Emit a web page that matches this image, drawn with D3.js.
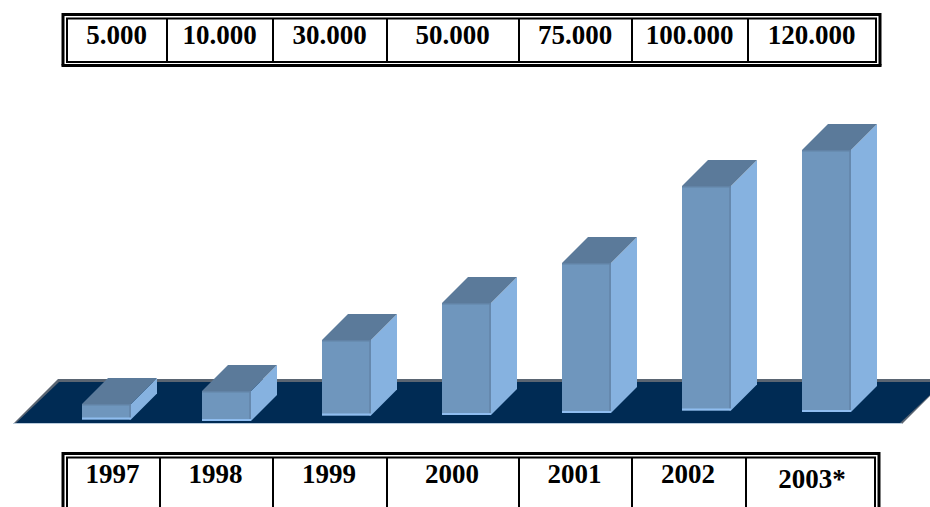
<!DOCTYPE html>
<html>
<head>
<meta charset="utf-8">
<script src="https://cdn.jsdelivr.net/npm/d3@7"></script>
<style>
  html, body { margin: 0; padding: 0; background: #fff; }
  svg { display: block; }
  text { font-family: "Liberation Serif", "Times New Roman", serif; font-weight: 700; font-size: 27px; fill: #000; text-anchor: middle; }
</style>
</head>
<body>
<svg id="chart" width="930" height="507"></svg>
<script>
// Yearly figures and their labels
const years = ["1997", "1998", "1999", "2000", "2001", "2002", "2003*"];
const values = [5000, 10000, 30000, 50000, 75000, 100000, 120000];
const valueLabels = ["5.000", "10.000", "30.000", "50.000", "75.000", "100.000", "120.000"];

// Column edges of the two tables
const topColumns = [67, 167, 273, 387, 519, 632, 748, 876];
const bottomColumns = [67, 160, 273, 387, 519, 632, 746, 875];

const svg = d3.select("#chart");
const fmt = d3.format(".1f");
const poly = pts => pts.map(p => p.map(fmt).join(",")).join(" ");

// Horizontal placement of the bars
const x = d3.scaleBand().domain(years).range([82, 851]).paddingInner(71 / 120).paddingOuter(0);

// Vertical scale: piecewise, since the columns do not rise in even steps
const yTop = d3.scaleLinear()
  .domain([0, 5000, 10000, 30000, 50000, 75000, 100000, 120000])
  .range([420, 404, 391, 340, 303, 263, 186, 150]);

// The bar feet stand at slightly different heights on the floor
const yBase = d3.scaleLinear().domain(d3.range(years.length)).range([419.5, 421, 415.5, 415, 413, 410.5, 412]);

const depth = 26;

// Dark floor with its bevelled rim
const floor = { left: 13, right: 902, top: 379, bottom: 424 };
const floorDx = floor.bottom - floor.top;
svg.append("polygon")
  .attr("points", poly([[floor.left, floor.bottom], [floor.left + floorDx, floor.top], [floor.right + floorDx, floor.top], [floor.right, floor.bottom]]))
  .attr("fill", "#5a6572");
svg.append("polygon")
  .attr("points", poly([[floor.left + 3, floor.bottom - 1], [floor.left + floorDx + 1, floor.top + 3], [floor.right + floorDx - 3, floor.top + 3], [floor.right - 2, floor.bottom - 1]]))
  .attr("fill", "#002b54");
svg.append("line")
  .attr("x1", floor.left).attr("x2", floor.right)
  .attr("y1", floor.bottom - 0.5).attr("y2", floor.bottom - 0.5)
  .attr("stroke", "#b9cbdc").attr("stroke-width", 1);

// Boxes, one per year
const bars = svg.append("g").selectAll("g")
  .data(values.map((v, i) => ({ v, i, year: years[i] })))
  .join("g")
  .each(function (d) {
    const g = d3.select(this);
    const x0 = x(d.year), x1 = x0 + x.bandwidth();
    const top = yTop(d.v), base = yBase(d.i);
    // right-hand side
    g.append("polygon")
      .attr("points", poly([[x1, top], [x1 + depth, top - depth], [x1 + depth, base - depth], [x1, base]]))
      .attr("fill", "#86b2e0");
    // top face
    g.append("polygon")
      .attr("points", poly([[x0, top], [x0 + depth, top - depth], [x1 + depth, top - depth], [x1, top]]))
      .attr("fill", "#5b7a9a");
    // front face
    g.append("rect")
      .attr("x", x0).attr("y", top).attr("width", x1 - x0).attr("height", base - top)
      .attr("fill", "#6f96bd");
    // shaded strips along the front's edges
    g.append("rect")
      .attr("x", x1 - 2).attr("y", top).attr("width", 2).attr("height", base - top)
      .attr("fill", "#6689ae");
    g.append("rect")
      .attr("x", x0).attr("y", top).attr("width", x1 - x0).attr("height", 1.5)
      .attr("fill", "#6283a6");
    // light reflection at the foot
    g.append("rect")
      .attr("x", x0).attr("y", base - 2).attr("width", x1 - x0).attr("height", 2)
      .attr("fill", "#8fbdf0");
  });

// One double-ruled table row
function drawTable(cfg) {
  const g = svg.append("g");
  const rule = (x1, y1, x2, y2, w) => g.append("line")
    .attr("x1", x1).attr("y1", y1).attr("x2", x2).attr("y2", y2)
    .attr("stroke", "#000").attr("stroke-width", w);
  const cols = cfg.columns;
  const first = cols[0], last = cols[cols.length - 1];
  // outer frame
  rule(first - 4, cfg.outerTop, last + 4, cfg.outerTop, 3);
  rule(first - 4, cfg.outerTop - 1.5, first - 4, cfg.outerBottom, 3);
  rule(last + 4, cfg.outerTop - 1.5, last + 4, cfg.outerBottom, 3);
  if (cfg.closed) rule(first - 5.5, cfg.outerBottom, last + 5.5, cfg.outerBottom, 3);
  // inner frame
  rule(first - 1, cfg.innerTop, last + 1, cfg.innerTop, 2);
  if (cfg.closed) rule(first - 1, cfg.innerBottom, last + 1, cfg.innerBottom, 2);
  // cell walls
  cols.forEach(c => rule(c, cfg.innerTop, c, cfg.closed ? cfg.innerBottom : cfg.outerBottom, 2));
  // labels
  g.selectAll("text").data(cfg.labels).join("text")
    .attr("x", (d, i) => (cols[i] + cols[i + 1]) / 2 + cfg.nudge(i))
    .attr("y", (d, i) => cfg.baseline(i))
    .text(d => d);
}

drawTable({
  columns: topColumns, labels: valueLabels, closed: true,
  outerTop: 14.5, innerTop: 18.5, innerBottom: 62, outerBottom: 65.5,
  nudge: () => -0.5,
  baseline: () => 44
});
drawTable({
  columns: bottomColumns, labels: years, closed: false,
  outerTop: 453.5, innerTop: 457.5, outerBottom: 507,
  nudge: i => i === years.length - 1 ? 1.5 : -1,
  baseline: i => i === years.length - 1 ? 488 : 483
});
</script>
</body>
</html>
